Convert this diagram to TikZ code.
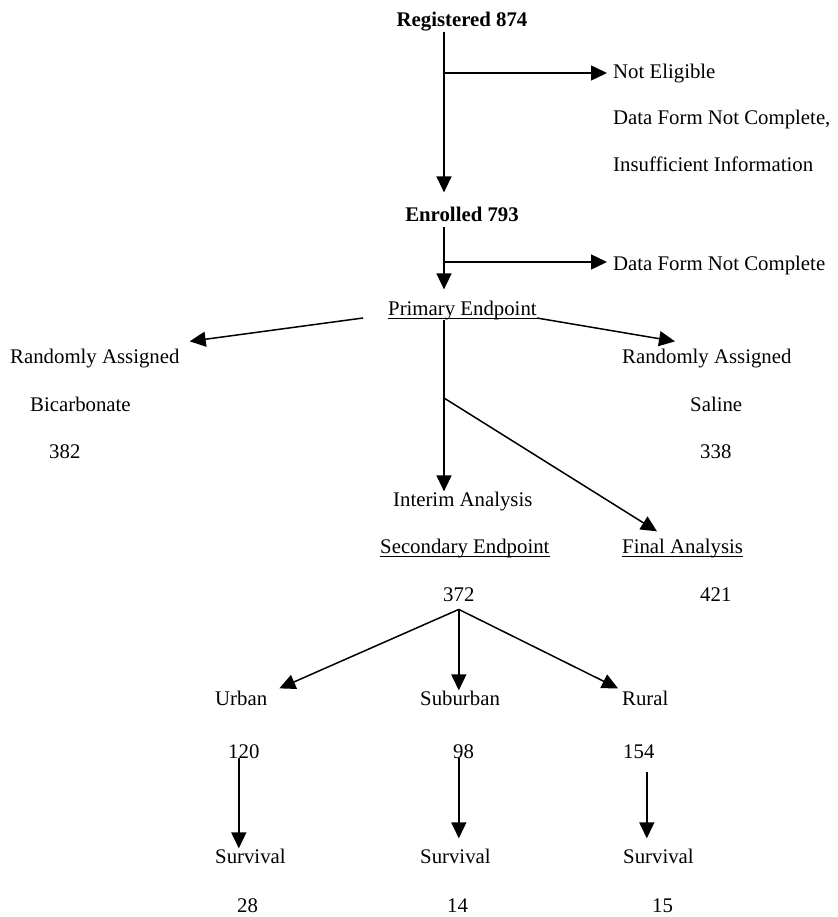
\documentclass[tikz,border=0pt]{standalone}
\usepackage{fontspec}
\setmainfont{Liberation Serif}
\usetikzlibrary{arrows.meta}
\newcommand{\spineX}{444}
\newcommand{\txtsize}{\fontsize{20.8}{25}\selectfont}
\tikzset{
  lbl/.style={inner sep=0pt, anchor=base west, font=\txtsize},
  bld/.style={inner sep=0pt, anchor=base, font=\txtsize\bfseries},
  arr/.style={line width=1.5pt, -{Triangle[length=16pt,width=15pt]}},
  uline/.style={line width=1pt},
}

\begin{document}
\begin{tikzpicture}[x=1pt,y=-1pt]
        \useasboundingbox (0,0) rectangle (837,917);
        \fill[white] (0,0) rectangle (837,917);

        % Draw the labels, top part
        \node[bld] (reg) at (462,27) {Registered 874};
        \node[lbl] (ne) at (613,79) {Not Eligible};
        \node[lbl] (dfnc) at (613,125) {Data Form Not Complete,};
        \node[lbl] (insuf) at (613,172) {Insufficient Information};
        \node[bld] (enr) at (462,222) {Enrolled 793};
        \node[lbl] (dfnc2) at (613,270) {Data Form Not Complete};
        \node[lbl] (pe) at (388,315) {Primary Endpoint};

        % Randomly assigned groups
        \node[lbl] (ral) at (10,363) {Randomly Assigned};
        \node[lbl] (bic) at (30,411) {Bicarbonate};
        \node[lbl] (n382) at (49,458) {382};
        \node[lbl] (rar) at (622,363) {Randomly Assigned};
        \node[lbl] (sal) at (690,411) {Saline};
        \node[lbl] (n338) at (700,458) {338};

        % Analyses
        \node[lbl] (ia) at (393,506) {Interim Analysis};
        \node[lbl] (se) at (380,553) {Secondary Endpoint};
        \node[lbl] (fa) at (622,553) {Final Analysis};
        \node[lbl] (n372) at (443,601) {372};
        \node[lbl] (n421) at (700,601) {421};

        % Regions and survival
        \node[lbl] (urb) at (215,705) {Urban};
        \node[lbl] (sub) at (420,705) {Suburban};
        \node[lbl] (rur) at (622,705) {Rural};
        \node[lbl] (n120) at (228,758) {120};
        \node[lbl] (n98) at (453,758) {98};
        \node[lbl] (n154) at (623,758) {154};
        \node[lbl] (sv1) at (215,863) {Survival};
        \node[lbl] (sv2) at (420,863) {Survival};
        \node[lbl] (sv3) at (623,863) {Survival};
        \node[lbl] (n28) at (237,912) {28};
        \node[lbl] (n14) at (447,912) {14};
        \node[lbl] (n15) at (652,912) {15};

        % Underlines
        \foreach \n in {pe,se,fa}
            \draw[uline] ([yshift=-3pt]\n.base west) -- ([yshift=-3pt]\n.base east);

        % Branch points
        \coordinate (spine) at (\spineX,0);
        \coordinate (fork1) at (\spineX,73);
        \coordinate (fork2) at (\spineX,262);
        \coordinate (fork) at (\spineX,398);
        \coordinate (split) at ([yshift=-8pt]n372.south);
        \coordinate (utop) at ([xshift=-5pt]n120.south);
        \coordinate (rtop) at ([xshift=8pt,yshift=-14pt]n154.south);

        % Draw the main line and the side exits
        \draw[arr,shorten >=15pt] (reg.south -| spine) -- (enr.north -| spine);
        \draw[arr,shorten >=6pt] (fork1) -- (fork1 -| ne.west);
        \draw[arr,shorten <=5pt,shorten >=11pt] (enr.south -| spine) -- (pe.north -| spine);
        \draw[arr,shorten >=6pt] (fork2) -- (fork2 -| dfnc2.west);

        % Primary endpoint split
        \draw[arr] ([xshift=-25pt,yshift=-3pt]pe.base west) -- ([xshift=10pt,yshift=7pt]ral.north east);
        \draw[arr] ([yshift=-3pt]pe.base east) -- ([xshift=53pt,yshift=7pt]rar.north west);
        \draw[arr] (pe.south -| spine) -- (ia.north -| spine);
        \draw[arr] (fork) -- ([xshift=35pt,yshift=7pt]fa.north west);

        % Secondary endpoint split
        \draw[arr] (split) -- ([xshift=12pt,yshift=2pt]urb.north east);
        \draw[arr] (split) -- (split |- sub.north);
        \draw[arr] (split) -- ([xshift=-4pt,yshift=2pt]rur.north west);

        % Survival
        \draw[arr] (utop) -- (utop |- sv1.north);
        \draw[arr,shorten >=10pt] (split |- n98.south) -- (split |- sv2.north);
        \draw[arr,shorten >=10pt] (rtop) -- (rtop |- sv3.north);
    \end{tikzpicture}
\end{document}
